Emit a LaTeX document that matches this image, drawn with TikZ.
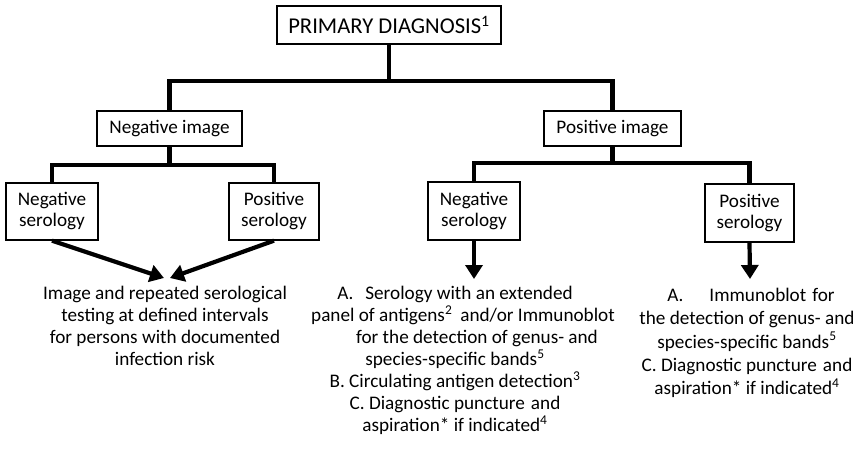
\documentclass[tikz,border=0pt]{standalone}
\usepackage{fontspec}
\setmainfont{Carlito}
\usetikzlibrary{arrows.meta}
\begin{document}
\begin{tikzpicture}[x=1pt,y=-1pt,
  box/.style={draw, line width=1.3pt, inner sep=0pt, align=center,
    font=\fontsize{19.2}{21}\selectfont},
  conn/.style={line width=4.2pt, line cap=butt},
  arr/.style={conn, -{Triangle[length=14pt,width=17pt]}},
  body/.style={align=center, inner sep=0pt, anchor=north,
    font=\fontsize{19.2}{22}\selectfont}]
\path[use as bounding box] (0,0) rectangle (859,450);
% boxes
\node[box, minimum width=224pt, minimum height=38pt,
  font=\fontsize{22.6}{24}\selectfont] (top) at (389,25) {PRIMARY DIAGNOSIS\textsuperscript{1}};
\node[box, minimum width=145pt, minimum height=35pt] (negimg) at (169.5,128.5) {Negative image};
\node[box, minimum width=137pt, minimum height=35pt] (posimg) at (612.5,128.5) {Positive image};
\node[box, minimum width=92pt, minimum height=57pt] (lneg) at (52,211.5) {Negative\\serology};
\node[box, minimum width=90pt, minimum height=57pt] (lpos) at (274,211.5) {Positive\\serology};
\node[box, minimum width=92pt, minimum height=58pt] (rneg) at (474,211) {Negative\\serology};
\node[box, minimum width=89pt, minimum height=58pt] (rpos) at (749.5,213) {Positive\\serology};
% tree connectors
\draw[conn] (top.south) -- (top.south |- 0,81);
\draw[conn] (negimg.north) -- (negimg.north |- 0,81) -- (posimg.north |- 0,81) -- (posimg.north);
\draw[conn] (negimg.south) -- (negimg.south |- 0,165);
\draw[conn] (lneg.north) -- (lneg.north |- 0,165) -- (lpos.north |- 0,165) -- (lpos.north);
\draw[conn] (posimg.south) -- (posimg.south |- 0,163);
\draw[conn] (rneg.north) -- (rneg.north |- 0,163) -- (rpos.north |- 0,163) -- (rpos.north);
% arrows
\coordinate (tipa) at (164,278);
\coordinate (tipb) at (170,278);
\draw[arr] (lneg.south) -- (tipa);
\draw[arr] (lpos.south) -- (tipb);
\coordinate (tipc) at (474,279);
\coordinate (tipd) at (750,279);
\draw[arr] (rneg.south) -- (tipc);
\draw[arr] (rpos.south) -- (tipd);
% texts
\node[body] (ltext) at (165,286) {Image and repeated serological\\testing at defined intervals\\for persons with documented\\infection risk};
\node[body] (mtext) at (455,286) {A.\hspace{12pt}Serology with an extended\\
\hspace*{16pt}panel of antigens\textsuperscript{2}\hspace{8pt}and/or Immunoblot\\
\hspace*{44pt}for the detection of genus- and\\
species-specific bands\textsuperscript{5}\\
B. Circulating antigen detection\textsuperscript{3}\\
C. Diagnostic puncture\hspace{6pt}and\\
aspiration* if indicated\textsuperscript{4}};
\node[body, font=\fontsize{19.2}{23.3}\selectfont] (rtext) at (747,288) {\hspace*{8pt}A.\hspace{26pt}Immunoblot\hspace{6pt}for\\
the detection of genus- and\\
species-specific bands\textsuperscript{5}\\
C. Diagnostic puncture\hspace{6pt}and\\
aspiration* if indicated\textsuperscript{4}};
\end{tikzpicture}
\end{document}
